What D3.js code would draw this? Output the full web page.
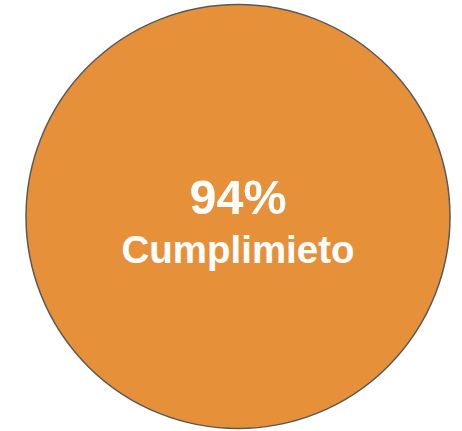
<!DOCTYPE html>
<html>
<head>
<meta charset="utf-8">
<script src="https://cdn.jsdelivr.net/npm/d3@7"></script>
<style>
  body { margin: 0; background: #fff; }
  svg { display: block; }
</style>
</head>
<body>
<div id="chart"></div>
<script>
var w = 462,
    h = 431,
    cx = 238, cy = 216.5, r = 212;

// data
var values = [94];
var labels = ["Cumplimieto"];
var colors = ["#E6913A"];

var svg = d3.select("#chart").append("svg")
    .attr("width", w)
    .attr("height", h);

var g = svg.append("g")
    .attr("transform", "translate(" + cx + "," + cy + ")");

// single slice pie -> full disc
var pie = d3.pie().sort(null);
var arc = d3.arc().innerRadius(0).outerRadius(r);

g.selectAll("path")
    .data(pie(values))
  .enter().append("path")
    .attr("d", arc)
    .attr("fill", function(d, i) { return colors[i]; })
    .attr("stroke", "#595959")
    .attr("stroke-width", 1.5);

var fmt = function(v) { return v + "%"; };

g.append("text")
    .attr("text-anchor", "middle")
    .attr("y", -2.5)
    .attr("fill", "#fff")
    .style("font-family", "'Liberation Sans', Arial, sans-serif")
    .style("font-weight", "bold")
    .style("font-size", "48.5px")
    .text(fmt(values[0]));

g.append("text")
    .attr("text-anchor", "middle")
    .attr("y", 46)
    .attr("fill", "#fff")
    .style("font-family", "'Liberation Sans', Arial, sans-serif")
    .style("font-weight", "bold")
    .style("font-size", "38.5px")
    .text(labels[0]);
</script>
</body>
</html>
